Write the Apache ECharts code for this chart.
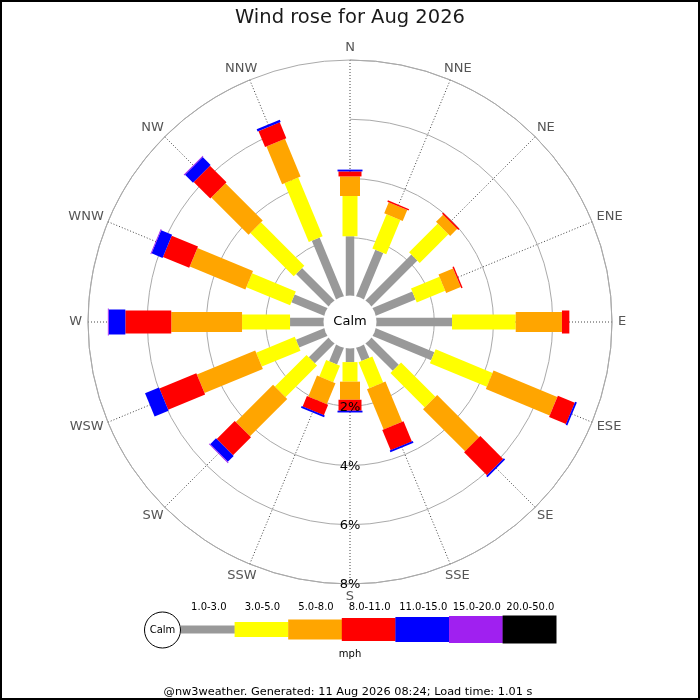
<!DOCTYPE html>
<html><head><meta charset="utf-8">
<script src="https://cdn.jsdelivr.net/npm/echarts@6/dist/echarts.min.js"></script>
<style>html,body{margin:0;padding:0;background:#fff}#c{width:700px;height:700px}</style>
</head><body><div id="c"></div>
<script>
// ---- data ----
const directions = ['N','NNE','NE','ENE','E','ESE','SE','SSE','S','SSW','SW','WSW','W','WNW','NW','NNW'];
const speed_1_3   = [2.05,1.74,2.23,1.49,2.60,2.18,1.34,0.52,0.51,0.65,0.98,1.07,1.18,1.24,1.59,2.18];
const speed_3_5   = [1.36,1.25,1.37,1.04,2.15,2.08,1.64,0.95,0.66,0.60,1.51,1.41,1.62,1.60,2.07,2.15];
const speed_5_8   = [0.66,0.40,0.34,0.53,1.56,2.33,2.01,1.47,0.61,0.77,1.78,2.13,2.39,2.03,1.78,1.38];
const speed_8_11  = [0.17,0.05,0.05,0.05,0.25,0.62,1.09,0.74,0.37,0.38,0.86,1.35,1.55,0.96,0.79,0.58];
const speed_11_15 = [0.06,0,0,0,0,0.06,0.06,0.06,0.06,0.06,0.28,0.51,0.56,0.40,0.38,0.08];
const speed_15_20 = [0,0,0,0,0,0,0,0,0,0,0.03,0,0.03,0.03,0.03,0];
const speed_20_50 = [0,0,0,0,0,0,0,0,0,0,0,0,0,0,0,0];
const speedBandLabels = ['1.0-3.0','3.0-5.0','5.0-8.0','8.0-11.0','11.0-15.0','15.0-20.0','20.0-50.0'];
const radialTicks = [2,4,6,8];
const titleText = 'Wind rose for Aug 2026';
const unitText = 'mph';
const calmText = 'Calm';
const footerText = '@nw3weather. Generated: 11 Aug 2026 08:24; Load time: 1.01 s';

// ---- style ----
const bands = [speed_1_3, speed_3_5, speed_5_8, speed_8_11, speed_11_15, speed_15_20, speed_20_50];
const bandColors = ['#999999','#ffff00','#ffa500','#ff0000','#0000ff','#a020f0','#000000'];
const bandWidths = [8.5, 15, 20, 23, 25, 27, 28];
const FONT = '"DejaVu Sans", "Liberation Sans", sans-serif';
const mctx = document.createElement('canvas').getContext('2d');
mctx.font = '13px ' + FONT;

const chart = echarts.init(document.getElementById('c'), null, {renderer: 'canvas'});

function bandSeries(b) {
  const data = [];
  directions.forEach((d, i) => {
    let start = 0;
    for (let k = 0; k < b; k++) start += bands[k][i];
    const v = bands[b][i];
    if (v > 0) data.push([start, start + v, i]);
  });
  const hw = bandWidths[b] / 2;
  return {
    type: 'custom', coordinateSystem: 'polar', z: 3,
    dimensions: ['start', 'end', 'dir'],
    encode: {radius: [0, 1], angle: 2},
    data: data,
    silent: true,
    renderItem: function (params, api) {
      const p0 = api.coord([api.value(0), api.value(2)]);
      const p1 = api.coord([api.value(1), api.value(2)]);
      const cx = params.coordSys.cx, cy = params.coordSys.cy;
      let dx = p1[0] - cx, dy = p1[1] - cy;
      const len = Math.hypot(dx, dy) || 1;
      const nx = -dy / len * hw, ny = dx / len * hw;
      return {
        type: 'polygon',
        shape: {points: [[p0[0]+nx, p0[1]+ny], [p1[0]+nx, p1[1]+ny], [p1[0]-nx, p1[1]-ny], [p0[0]-nx, p0[1]-ny]]},
        style: {fill: bandColors[b]}
      };
    }
  };
}

const series = bands.map((_, b) => bandSeries(b));

// calm circle
series.push({
  type: 'custom', coordinateSystem: 'polar', z: 5, silent: true,
  data: [[0, 0]],
  renderItem: function (params, api) {
    const cs = params.coordSys;
    return {
      type: 'group',
      children: [
        {type: 'circle', shape: {cx: cs.cx, cy: cs.cy, r: cs.r0 + 1.5}, style: {fill: '#fff'}},
        {type: 'text', x: cs.cx, y: cs.cy, style: {text: calmText, font: '13px ' + FONT, fill: '#000', align: 'center', verticalAlign: 'middle'}}
      ]
    };
  }
});

// direction labels
series.push({
  type: 'custom', coordinateSystem: 'polar', z: 6, silent: true,
  data: directions.map((d, i) => [radialTicks[radialTicks.length - 1], i]),
  renderItem: function (params, api) {
    const cs = params.coordSys;
    const idx = api.value(1);
    const p = api.coord([api.value(0), idx]);
    const ux = (p[0] - cs.cx) / cs.r, uy = (p[1] - cs.cy) / cs.r;
    const txt = directions[idx];
    const w = mctx.measureText(txt).width, h = 13, m = 6;
    return {
      type: 'text',
      x: p[0] + ux * (w / 2 + m), y: p[1] + uy * (h / 2 + m),
      style: {text: txt, font: '13px ' + FONT, fill: '#555', align: 'center', verticalAlign: 'middle'}
    };
  }
});

// radial % labels along S
series.push({
  type: 'custom', coordinateSystem: 'polar', z: 7, silent: true,
  data: radialTicks.map(v => [v, directions.indexOf('S')]),
  renderItem: function (params, api) {
    const p = api.coord([api.value(0), api.value(1)]);
    return {
      type: 'text', x: p[0], y: p[1] + 1,
      style: {text: api.value(0) + '%', font: '13px ' + FONT, fill: '#000', align: 'center', verticalAlign: 'middle'}
    };
  }
});

// legend graphics
const legendX0 = 181, legendItemW = 53.6, legendCY = 629.5;
const legendHeights = [8, 15, 20, 23, 25, 27, 28];
const graphic = [];
graphic.push({type: 'rect', shape: {x: 1, y: 1, width: 698, height: 698}, style: {fill: 'none', stroke: '#000', lineWidth: 2}, z: 100});
speedBandLabels.forEach((lab, b) => {
  const x = legendX0 + b * legendItemW;
  graphic.push({type: 'rect', shape: {x: x, y: legendCY - legendHeights[b] / 2, width: legendItemW + 0.3, height: legendHeights[b]}, style: {fill: bandColors[b]}});
  graphic.push({type: 'text', x: x + legendItemW / 2 + 1, y: 607, style: {text: lab, font: '10px ' + FONT, fill: '#000', align: 'center', verticalAlign: 'middle'}});
});
graphic.push({type: 'circle', shape: {cx: 162.5, cy: 630, r: 18}, style: {fill: '#fff', stroke: '#000', lineWidth: 1}, z: 10});
graphic.push({type: 'text', x: 162.5, y: 630, style: {text: calmText, font: '10px ' + FONT, fill: '#000', align: 'center', verticalAlign: 'middle'}, z: 11});
graphic.push({type: 'text', x: 350, y: 654, style: {text: unitText, font: '10px ' + FONT, fill: '#000', align: 'center', verticalAlign: 'middle'}});
graphic.push({type: 'text', x: 348, y: 692, style: {text: footerText, font: '11.3px ' + FONT, fill: '#000', align: 'center', verticalAlign: 'middle'}});

chart.setOption({
  animation: false,
  backgroundColor: '#fff',
  textStyle: {fontFamily: FONT},
  title: {text: titleText, left: 'center', top: 3, textStyle: {fontSize: 19.5, fontWeight: 'normal', color: '#1a1a1a', fontFamily: FONT}},
  polar: {center: [350, 322], radius: [25, 262]},
  angleAxis: {
    type: 'category', data: directions, boundaryGap: false, startAngle: 90, clockwise: true,
    axisLine: {show: true, lineStyle: {color: '#aaa', width: 1}},
    axisTick: {show: false}, axisLabel: {show: false},
    splitLine: {show: true, lineStyle: {color: '#444', type: [1, 2], width: 1}}
  },
  radiusAxis: {
    type: 'value', min: 0, max: 8, interval: 2,
    axisLine: {show: false}, axisTick: {show: false}, axisLabel: {show: false},
    splitLine: {show: true, lineStyle: {color: '#aaa', width: 1}}
  },
  graphic: graphic,
  series: series
});
</script></body></html>
